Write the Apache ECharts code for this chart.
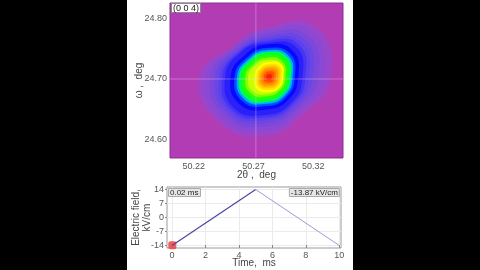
<!DOCTYPE html>
<html>
<head>
<meta charset="utf-8">
<script src="https://cdn.jsdelivr.net/npm/echarts@6/dist/echarts.min.js"></script>
<style>
html,body{margin:0;padding:0;background:#000;width:480px;height:270px;overflow:hidden;}
#panel{position:absolute;left:127px;top:0;width:226px;height:270px;background:#fff;}
#chart{position:absolute;left:0;top:0;width:480px;height:270px;}
</style>
</head>
<body>
<div id="panel"></div>
<div id="chart"></div>
<script>
// ---- Reciprocal space map (2θ, ω) ----
const THETA_TICKS = [50.22, 50.27, 50.32];
const OMEGA_TICKS = [24.60, 24.70, 24.80];
const CROSS_THETA = 50.272;
const CROSS_OMEGA = 24.700;
const MAP_LABEL = '(0 0 4)';

// Filled contour levels, outermost first: [2θ, ω] points
const CONTOUR_COLORS = [
  '#9a46ca', '#8b48d4', '#7c48dc', '#6c46e4', '#5c42ec', '#4634f4', '#2a20fa',
  '#0808ff', '#0050ff', '#00b0ff', '#00ff40', '#28ff00', '#80ff00', '#c8ff00',
  '#ffff00', '#ffe400', '#ffc400', '#ffa000', '#ff8000', '#ff5000', '#ff2000'
];
const CONTOURS = [
  [[50.3349,24.7016],[50.3223,24.7855],[50.2796,24.7838],[50.2528,24.7542],[50.2243,24.7016],[50.2419,24.6276],[50.2796,24.6062],[50.3106,24.6407]],
  [[50.3291,24.7016],[50.3186,24.7781],[50.2796,24.7789],[50.2536,24.7526],[50.2293,24.7016],[50.2444,24.6325],[50.2796,24.6144],[50.3085,24.6449]],
  [[50.3240,24.7016],[50.3152,24.7715],[50.2796,24.7740],[50.2549,24.7501],[50.2339,24.7016],[50.2469,24.6375],[50.2796,24.6218],[50.3064,24.6490]],
  [[50.3198,24.7016],[50.3123,24.7657],[50.2796,24.7690],[50.2561,24.7477],[50.2377,24.7016],[50.2490,24.6416],[50.2796,24.6276],[50.3047,24.6523]],
  [[50.3165,24.7016],[50.3098,24.7608],[50.2796,24.7657],[50.2570,24.7460],[50.2410,24.7016],[50.2507,24.6449],[50.2796,24.6325],[50.3035,24.6547]],
  [[50.3135,24.7016],[50.3077,24.7567],[50.2796,24.7625],[50.2578,24.7444],[50.2436,24.7016],[50.2524,24.6481],[50.2796,24.6366],[50.3022,24.6572]],
  [[50.3110,24.7016],[50.3056,24.7526],[50.2796,24.7592],[50.2586,24.7427],[50.2461,24.7016],[50.2540,24.6514],[50.2796,24.6407],[50.3010,24.6597]],
  [[50.3075,24.7033],[50.3031,24.7461],[50.2813,24.7568],[50.2628,24.7396],[50.2508,24.7033],[50.2584,24.6584],[50.2813,24.6498],[50.2998,24.6670]],
  [[50.3046,24.7033],[50.3007,24.7415],[50.2813,24.7510],[50.2648,24.7357],[50.2541,24.7033],[50.2608,24.6632],[50.2813,24.6556],[50.2978,24.6709]],
  [[50.3028,24.7033],[50.2992,24.7385],[50.2813,24.7473],[50.2660,24.7332],[50.2562,24.7033],[50.2624,24.6663],[50.2813,24.6593],[50.2966,24.6734]],
  [[50.3014,24.7033],[50.2981,24.7362],[50.2813,24.7444],[50.2671,24.7313],[50.2578,24.7033],[50.2637,24.6688],[50.2813,24.6622],[50.2955,24.6753]],
  [[50.2990,24.7033],[50.2961,24.7322],[50.2813,24.7395],[50.2687,24.7280],[50.2607,24.7033],[50.2658,24.6729],[50.2813,24.6671],[50.2939,24.6786]],
  [[50.2968,24.7033],[50.2942,24.7286],[50.2813,24.7350],[50.2703,24.7248],[50.2632,24.7033],[50.2677,24.6767],[50.2813,24.6716],[50.2923,24.6818]],
  [[50.2950,24.7033],[50.2927,24.7257],[50.2813,24.7313],[50.2716,24.7224],[50.2654,24.7033],[50.2693,24.6798],[50.2813,24.6753],[50.2910,24.6842]],
  [[50.2951,24.7033],[50.2936,24.7240],[50.2830,24.7280],[50.2745,24.7201],[50.2709,24.7033],[50.2729,24.6836],[50.2830,24.6786],[50.2921,24.6855]],
  [[50.2935,24.7033],[50.2921,24.7212],[50.2830,24.7247],[50.2756,24.7178],[50.2725,24.7033],[50.2743,24.6862],[50.2830,24.6819],[50.2909,24.6878]],
  [[50.2921,24.7033],[50.2909,24.7188],[50.2830,24.7218],[50.2766,24.7159],[50.2739,24.7033],[50.2755,24.6885],[50.2830,24.6848],[50.2898,24.6900]],
  [[50.2906,24.7033],[50.2897,24.7165],[50.2830,24.7189],[50.2776,24.7140],[50.2754,24.7033],[50.2766,24.6908],[50.2830,24.6877],[50.2887,24.6921]],
  [[50.2890,24.7033],[50.2883,24.7137],[50.2830,24.7156],[50.2787,24.7117],[50.2770,24.7033],[50.2780,24.6934],[50.2830,24.6910],[50.2875,24.6944]],
  [[50.2874,24.7033],[50.2869,24.7109],[50.2830,24.7123],[50.2799,24.7094],[50.2786,24.7033],[50.2793,24.6961],[50.2830,24.6943],[50.2864,24.6967]],
  [[50.2854,24.7033],[50.2851,24.7074],[50.2830,24.7082],[50.2813,24.7066],[50.2806,24.7033],[50.2810,24.6994],[50.2830,24.6984],[50.2848,24.6997]]
];

// ---- Electric field waveform ----
const TIME = [0, 5, 10];
const FIELD = [-14, 14, -14];
const TIME_TICKS = [0, 2, 4, 6, 8, 10];
const FIELD_TICKS = [-14, -7, 0, 7, 14];
const CURRENT_TIME = 0.02;
const CURRENT_FIELD = -13.87;

const FONT = 'Liberation Sans';
const chart = echarts.init(document.getElementById('chart'), null, {renderer: 'canvas'});

const rising = [[TIME[0], FIELD[0]], [TIME[1], FIELD[1]]];
const falling = [[TIME[1], FIELD[1]], [TIME[2], FIELD[2]]];

chart.setOption({
  animation: false,
  backgroundColor: 'transparent',
  textStyle: {fontFamily: FONT},
  title: [
    {text: MAP_LABEL, left: 171, top: 3, padding: [1, 2, 0, 2], backgroundColor: '#fff', borderColor: '#888', borderWidth: 1,
     textStyle: {fontSize: 9, fontWeight: 'normal', color: '#222', fontFamily: FONT}},
    {text: CURRENT_TIME.toFixed(2) + ' ms', left: 168, top: 188, padding: [1, 2, 0, 2], backgroundColor: '#e6e6e6', borderColor: '#aaa', borderWidth: 1,
     textStyle: {fontSize: 8, fontWeight: 'normal', color: '#222', fontFamily: FONT}},
    {text: CURRENT_FIELD.toFixed(2) + ' kV/cm', right: 140, top: 188, padding: [1, 2, 0, 2], backgroundColor: '#e6e6e6', borderColor: '#aaa', borderWidth: 1,
     textStyle: {fontSize: 8, fontWeight: 'normal', color: '#222', fontFamily: FONT}}
  ],
  grid: [
    {left: 170, top: 3, width: 173, height: 155, show: true, backgroundColor: '#b23cb4', borderColor: '#8a3090', borderWidth: 1},
    {left: 167, top: 187, width: 174, height: 61, show: true, backgroundColor: '#fff', borderColor: '#999', borderWidth: 1}
  ],
  xAxis: [
    {gridIndex: 0, type: 'value', min: 50.20, max: 50.345,
     name: '2θ ,  deg', nameLocation: 'middle', nameGap: 12, nameMoveOverlap: false,
     nameTextStyle: {fontSize: 10, color: '#444', fontFamily: FONT},
     axisLine: {show: false, onZero: false}, axisTick: {show: false}, splitLine: {show: false},
     axisLabel: {customValues: THETA_TICKS, formatter: v => v.toFixed(2), fontSize: 9, color: '#555', margin: 4, fontFamily: FONT}},
    {gridIndex: 1, type: 'value', min: -0.3, max: 10.1,
     name: 'Time,  ms', nameLocation: 'middle', nameGap: 10, nameMoveOverlap: false,
     nameTextStyle: {fontSize: 10, color: '#444', fontFamily: FONT},
     axisLine: {show: false, onZero: false},
     splitLine: {show: true, lineStyle: {color: '#ebebeb', width: 1}},
     axisTick: {customValues: TIME_TICKS, inside: true, length: 3, lineStyle: {color: '#888'}},
     axisLabel: {customValues: TIME_TICKS, fontSize: 9, color: '#555', margin: 3, fontFamily: FONT}}
  ],
  yAxis: [
    {gridIndex: 0, type: 'value', min: 24.57, max: 24.825,
     name: 'ω ,  deg', nameLocation: 'middle', nameGap: 26, nameRotate: 90, nameMoveOverlap: false,
     nameTextStyle: {fontSize: 10, color: '#444', fontFamily: FONT},
     axisLine: {show: false, onZero: false}, axisTick: {show: false}, splitLine: {show: false},
     axisLabel: {customValues: OMEGA_TICKS, formatter: v => v.toFixed(2), fontSize: 9, color: '#555', margin: 3, fontFamily: FONT}},
    {gridIndex: 1, type: 'value', min: -15.25, max: 15.25,
     name: 'Electric field,\nkV/cm', nameLocation: 'middle', nameGap: 14, nameRotate: 90, nameMoveOverlap: false,
     nameTextStyle: {fontSize: 10, color: '#444', fontFamily: FONT, lineHeight: 11},
     axisLine: {show: false, onZero: false},
     splitLine: {show: true, lineStyle: {color: '#ebebeb', width: 1}},
     axisTick: {customValues: FIELD_TICKS, inside: false, length: 2, lineStyle: {color: '#888'}},
     axisLabel: {customValues: FIELD_TICKS, fontSize: 9, color: '#555', margin: 3, fontFamily: FONT}}
  ],
  series: [
    {
      type: 'custom', xAxisIndex: 0, yAxisIndex: 0, clip: true,
      data: CONTOURS.map((c, i) => [c[0][0], c[0][1], i]),
      renderItem: (params, api) => {
        const i = params.dataIndex;
        const pts = CONTOURS[i].map(p => api.coord(p));
        return {type: 'polygon', shape: {points: pts, smooth: 0.5}, style: {fill: CONTOUR_COLORS[i], stroke: null}};
      }
    },
    {type: 'line', xAxisIndex: 0, yAxisIndex: 0, symbol: 'none', silent: true,
     lineStyle: {color: 'rgba(255,210,255,0.35)', width: 1},
     data: [[CROSS_THETA, 24.57], [CROSS_THETA, 24.825]]},
    {type: 'line', xAxisIndex: 0, yAxisIndex: 0, symbol: 'none', silent: true,
     lineStyle: {color: 'rgba(255,210,255,0.35)', width: 1},
     data: [[50.20, CROSS_OMEGA], [50.345, CROSS_OMEGA]]},
    {type: 'line', xAxisIndex: 1, yAxisIndex: 1, symbol: 'none',
     lineStyle: {color: '#4b4b9e', width: 1.3}, data: rising},
    {type: 'line', xAxisIndex: 1, yAxisIndex: 1, symbol: 'none',
     lineStyle: {color: '#9c9cd8', width: 1}, data: falling},
    {type: 'scatter', xAxisIndex: 1, yAxisIndex: 1, symbol: 'roundRect', symbolSize: 8,
     itemStyle: {color: '#f04a4a', opacity: 0.9}, data: [[CURRENT_TIME, CURRENT_FIELD]]}
  ]
});
</script>
</body>
</html>
